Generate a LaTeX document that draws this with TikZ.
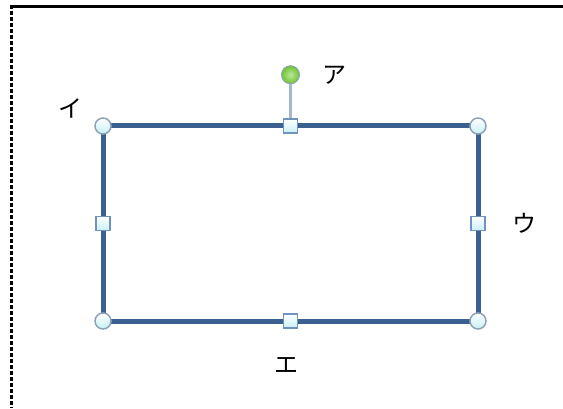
\documentclass[tikz,border=0pt]{standalone}
\usepackage{fontspec}
\usepackage{xcolor}
\usepackage{tikz}
\usetikzlibrary{positioning, calc}
\newfontfamily\jpfont{Noto Sans CJK JP}
\definecolor{shapeblue}{HTML}{3B6090}
\definecolor{handleedge}{HTML}{8FA3B8}
\definecolor{squareedge}{HTML}{6F93BE}
\definecolor{handlefill}{HTML}{C8F0F6}
\definecolor{stemcolor}{HTML}{A3B8CF}
\definecolor{rotgreen}{HTML}{6CC62A}

\begin{document}
\begin{tikzpicture}[
    x=1pt, y=1pt,
    cornerhandle/.style={circle, draw=handleedge, line width=1.5pt,
                         top color=white, bottom color=handlefill,
                         minimum size=16pt, inner sep=0pt},
    sidehandle/.style={rectangle, draw=squareedge, line width=1.5pt,
                       top color=white, bottom color=handlefill,
                       minimum size=14pt, inner sep=0pt},
    rothandle/.style={circle, draw=handleedge, line width=1pt,
                      inner color=rotgreen!45!white, outer color=rotgreen,
                      minimum size=18pt, inner sep=0pt},
    kana/.style={font=\jpfont\fontsize{24}{24}\selectfont, inner sep=0pt}
]
\useasboundingbox (0,0) rectangle (563,408);
% frame of the slide
\draw[line width=3pt] (10,401.5) -- (563,401.5);
\draw[line width=3pt, dash pattern=on 4pt off 2pt] (11.5,403) -- (11.5,0);

% the selected rectangle
\coordinate (nw) at (103,282);
\coordinate (ne) at (478,282);
\coordinate (se) at (478,87);
\coordinate (sw) at (103,87);
\draw[shapeblue, line width=5pt] (nw) -- (ne) -- (se) -- (sw) -- cycle;

% sizing handles
\node[cornerhandle] (hnw) at (nw) {};
\node[cornerhandle] (hne) at (ne) {};
\node[cornerhandle] (hse) at (se) {};
\node[cornerhandle] (hsw) at (sw) {};
\node[sidehandle] (htop) at ($(nw)!0.5!(ne)$) {};
\node[sidehandle] (hright) at ($(ne)!0.5!(se)$) {};
\node[sidehandle] (hbottom) at ($(sw)!0.5!(se)$) {};
\node[sidehandle] (hleft) at ($(nw)!0.5!(sw)$) {};

% rotation handle
\node[rothandle] (hrot) [above=34pt of htop] {};
\draw[stemcolor, line width=2.5pt] (hrot) -- (htop);

% labels
\node[kana] (la) [right=22pt of hrot] {ア};
\node[kana] (li) [above left=1pt and 14pt of hnw] {イ};
\node[kana] (lu) [right=27pt of hright] {ウ};
\node[kana] (le) [below=28pt of hbottom, xshift=-4pt] {エ};
\end{tikzpicture}
\end{document}
